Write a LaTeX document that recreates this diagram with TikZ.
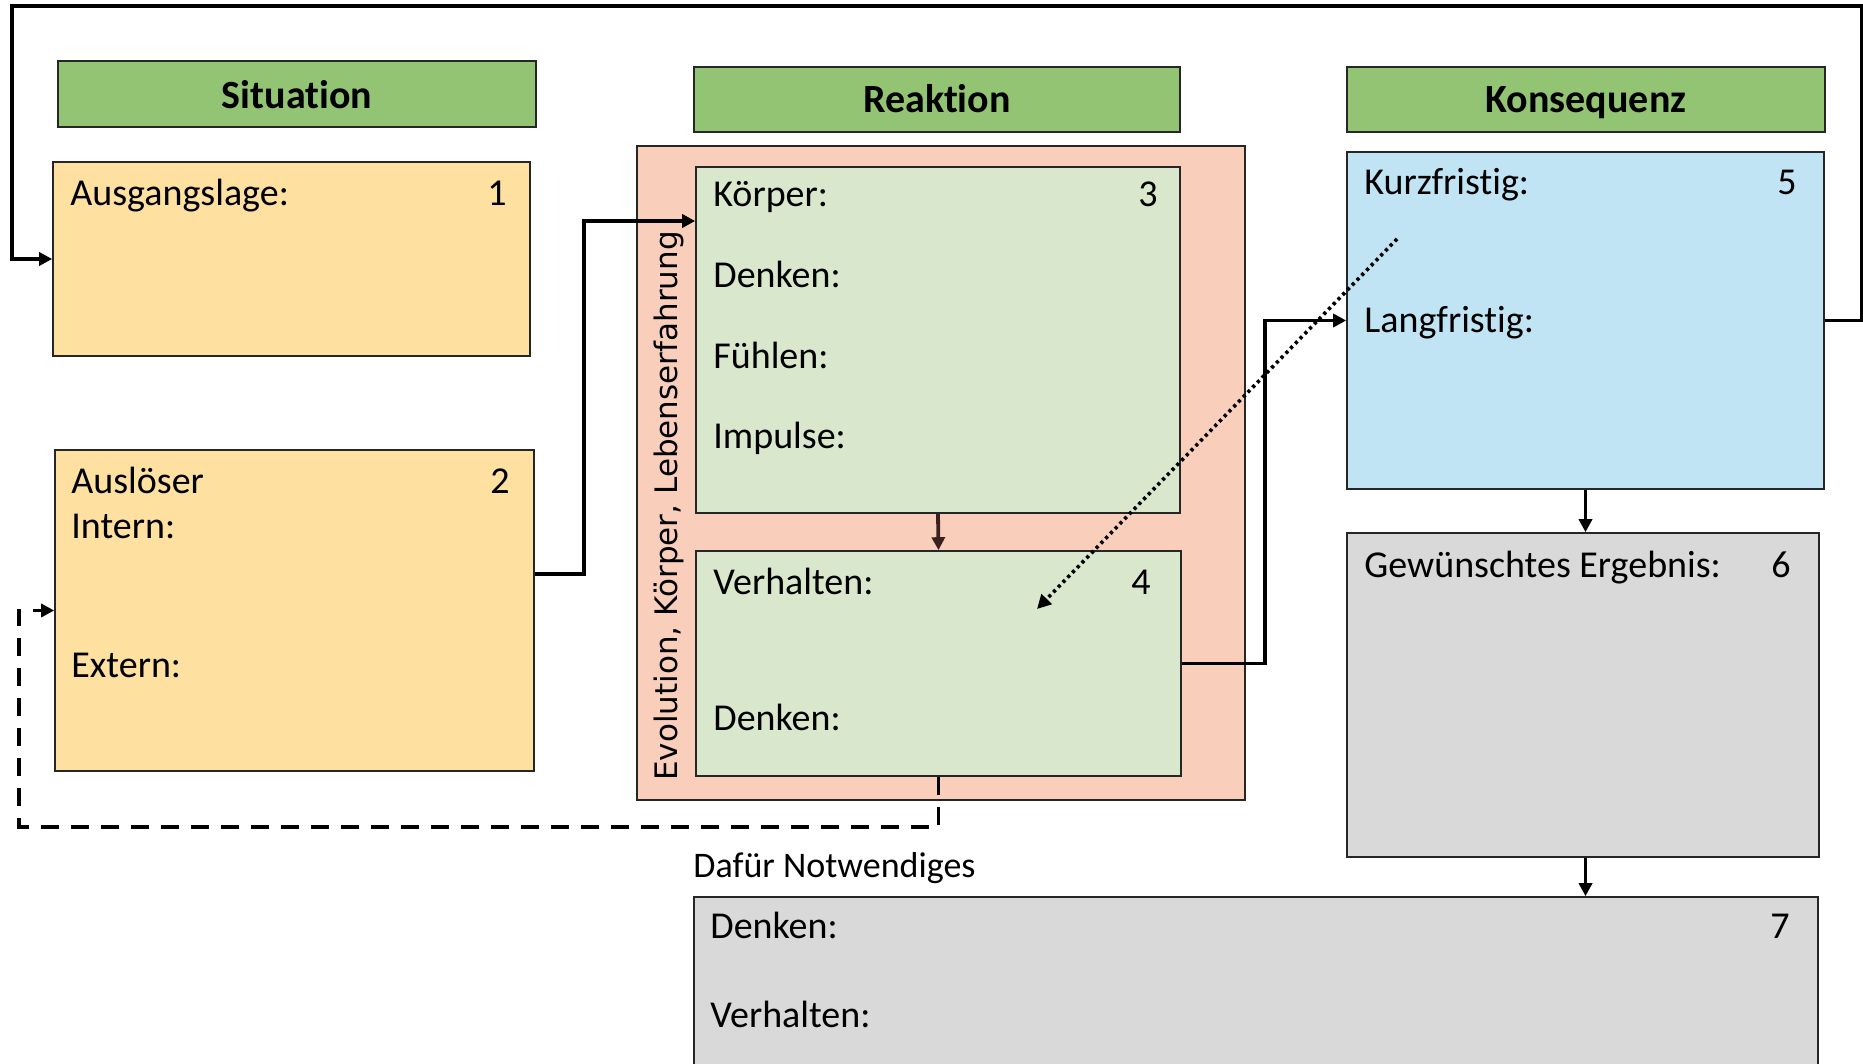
\documentclass[tikz,border=0pt]{standalone}
\usepackage{fontspec}
\setmainfont[Ligatures={NoCommon}]{Carlito}
\newfontfamily\vfont{DejaVu Sans}
\usetikzlibrary{arrows.meta,fit}
\definecolor{hdrgreen}{RGB}{147,196,115}
\definecolor{sitorange}{RGB}{254,224,161}
\definecolor{reapink}{RGB}{249,207,188}
\definecolor{realgreen}{RGB}{217,232,205}
\definecolor{konblue}{RGB}{193,228,244}
\definecolor{kongray}{RGB}{217,217,217}
\definecolor{darkbrown}{RGB}{60,32,32}
\begin{document}
\begin{tikzpicture}[x=0.5pt,y=-0.5pt,
  boxline/.style={draw=black!85, line width=0.8pt, inner sep=0pt},
  hdrtext/.style={anchor=base, inner sep=0pt, font=\fontsize{20pt}{24pt}\selectfont\bfseries},
  lbl/.style={anchor=base west, inner sep=0pt, font=\fontsize{19pt}{23pt}\selectfont},
  num/.style={anchor=base east, inner sep=0pt, font=\fontsize{19pt}{23pt}\selectfont},
  conn/.style={line width=1.9pt, draw=black},
  tip/.style={-{Triangle[length=6.5pt,width=6.5pt]}},
  ]
\useasboundingbox (0,0) rectangle (1863,1064);

% headers
\node[boxline, fill=hdrgreen, fit={(58,61) (536,127)}] (h1) {};
\node[hdrtext] (h1t) at (297,109) {Situation};
\node[boxline, fill=hdrgreen, fit={(694,67) (1180,132)}] (h2) {};
\node[hdrtext] (h2t) at (937,113) {Reaktion};
\node[boxline, fill=hdrgreen, fit={(1347,67) (1825,132)}] (h3) {};
\node[hdrtext] (h3t) at (1586,113) {Konsequenz};

% situation boxes
\node[boxline, fill=sitorange, fit={(53,162) (530,356)}] (b1) {};
\node[lbl] (b1a) at (70,206) {Ausgangslage:};
\node[num] (b1n) at (507,206) {1};

\node[boxline, fill=sitorange, fit={(55,450) (534,771)}] (b2) {};
\node[lbl] (b2a) at (71,493) {Auslöser};
\node[num] (b2n) at (510,493) {2};
\node[lbl] (b2b) at (71,538) {Intern:};
\node[lbl] (b2c) at (71,677) {Extern:};

% reaction area
\node[boxline, fill=reapink, fit={(637,146) (1245,800)}] (pk) {};
\node[inner sep=0pt, rotate=90, font=\fontsize{15.5pt}{18pt}\vfont] (vt) at (669,506) {Evolution, Körper, Lebenserfahrung};

\node[boxline, fill=realgreen, fit={(696,167) (1180,513)}] (b3) {};
\node[lbl] (b3a) at (713,207) {Körper:};
\node[num] (b3n) at (1158,207) {3};
\node[lbl] (b3b) at (713,287) {Denken:};
\node[lbl] (b3c) at (713,368) {Fühlen:};
\node[lbl] (b3d) at (713,448) {Impulse:};

\node[boxline, fill=realgreen, fit={(696,551) (1181,776)}] (b4) {};
\node[lbl] (b4a) at (713,594) {Verhalten:};
\node[num] (b4n) at (1151,594) {4};
\node[lbl] (b4b) at (713,730) {Denken:};

% consequence boxes
\node[boxline, fill=konblue, fit={(1347,152) (1824,489)}] (b5) {};
\node[lbl] (b5a) at (1364,195) {Kurzfristig:};
\node[num] (b5n) at (1797,195) {5};
\node[lbl] (b5b) at (1364,332) {Langfristig:};

\node[boxline, fill=kongray, fit={(1347,533) (1819,857)}] (b6) {};
\node[lbl] (b6a) at (1364,577) {Gewünschtes Ergebnis:};
\node[num] (b6n) at (1791,577) {6};

\node[lbl, font=\fontsize{18pt}{22pt}\selectfont] (df) at (693,877) {Dafür Notwendiges};
\begin{scope}
\clip (0,0) rectangle (1863,1064);
\node[boxline, fill=kongray, fit={(694,897) (1818,1080)}] (b7) {};
\end{scope}
\node[lbl] (b7a) at (710,938) {Denken:};
\node[num] (b7n) at (1790,938) {7};
\node[lbl] (b7b) at (710,1027) {Verhalten:};

% helper coordinates
\coordinate (k574) at (0,574);
\coordinate (k221) at (0,221);
\coordinate (fbR) at (1862,6);
\coordinate (fbL) at (12,6);
\coordinate (dsL) at (19,826);
\coordinate (dotS) at (1397,239);
\coordinate (dotE) at (1037,609);

% connectors
\draw[conn, tip] (b5.east) -- (fbR |- b5.east) -- (fbR) -- (fbL) |- (b1.west);
\draw[conn, tip] (b2.east |- k574) -- ++(49,0) |- (b3.west |- k221);
\draw[conn, tip, draw=darkbrown] (b3.south) -- (b4.north);
\draw[conn, tip] (b4.east) -- ++(83,0) |- (b5.west);
\draw[conn, tip] (b5.south) -- (b6.north -| b5.south);
\draw[conn, tip] (b6.south -| b5.south) -- (b7.north -| b5.south);
\draw[conn, tip, dash pattern=on 9pt off 6pt] (b4.south) -- ++(0,50) -| (dsL |- b2.west) -- (b2.west);
\draw[line width=1.8pt, dash pattern=on 1.6pt off 1.8pt, -{Triangle[length=7pt,width=7pt]}] (dotS) -- (dotE);
\end{tikzpicture}
\end{document}
